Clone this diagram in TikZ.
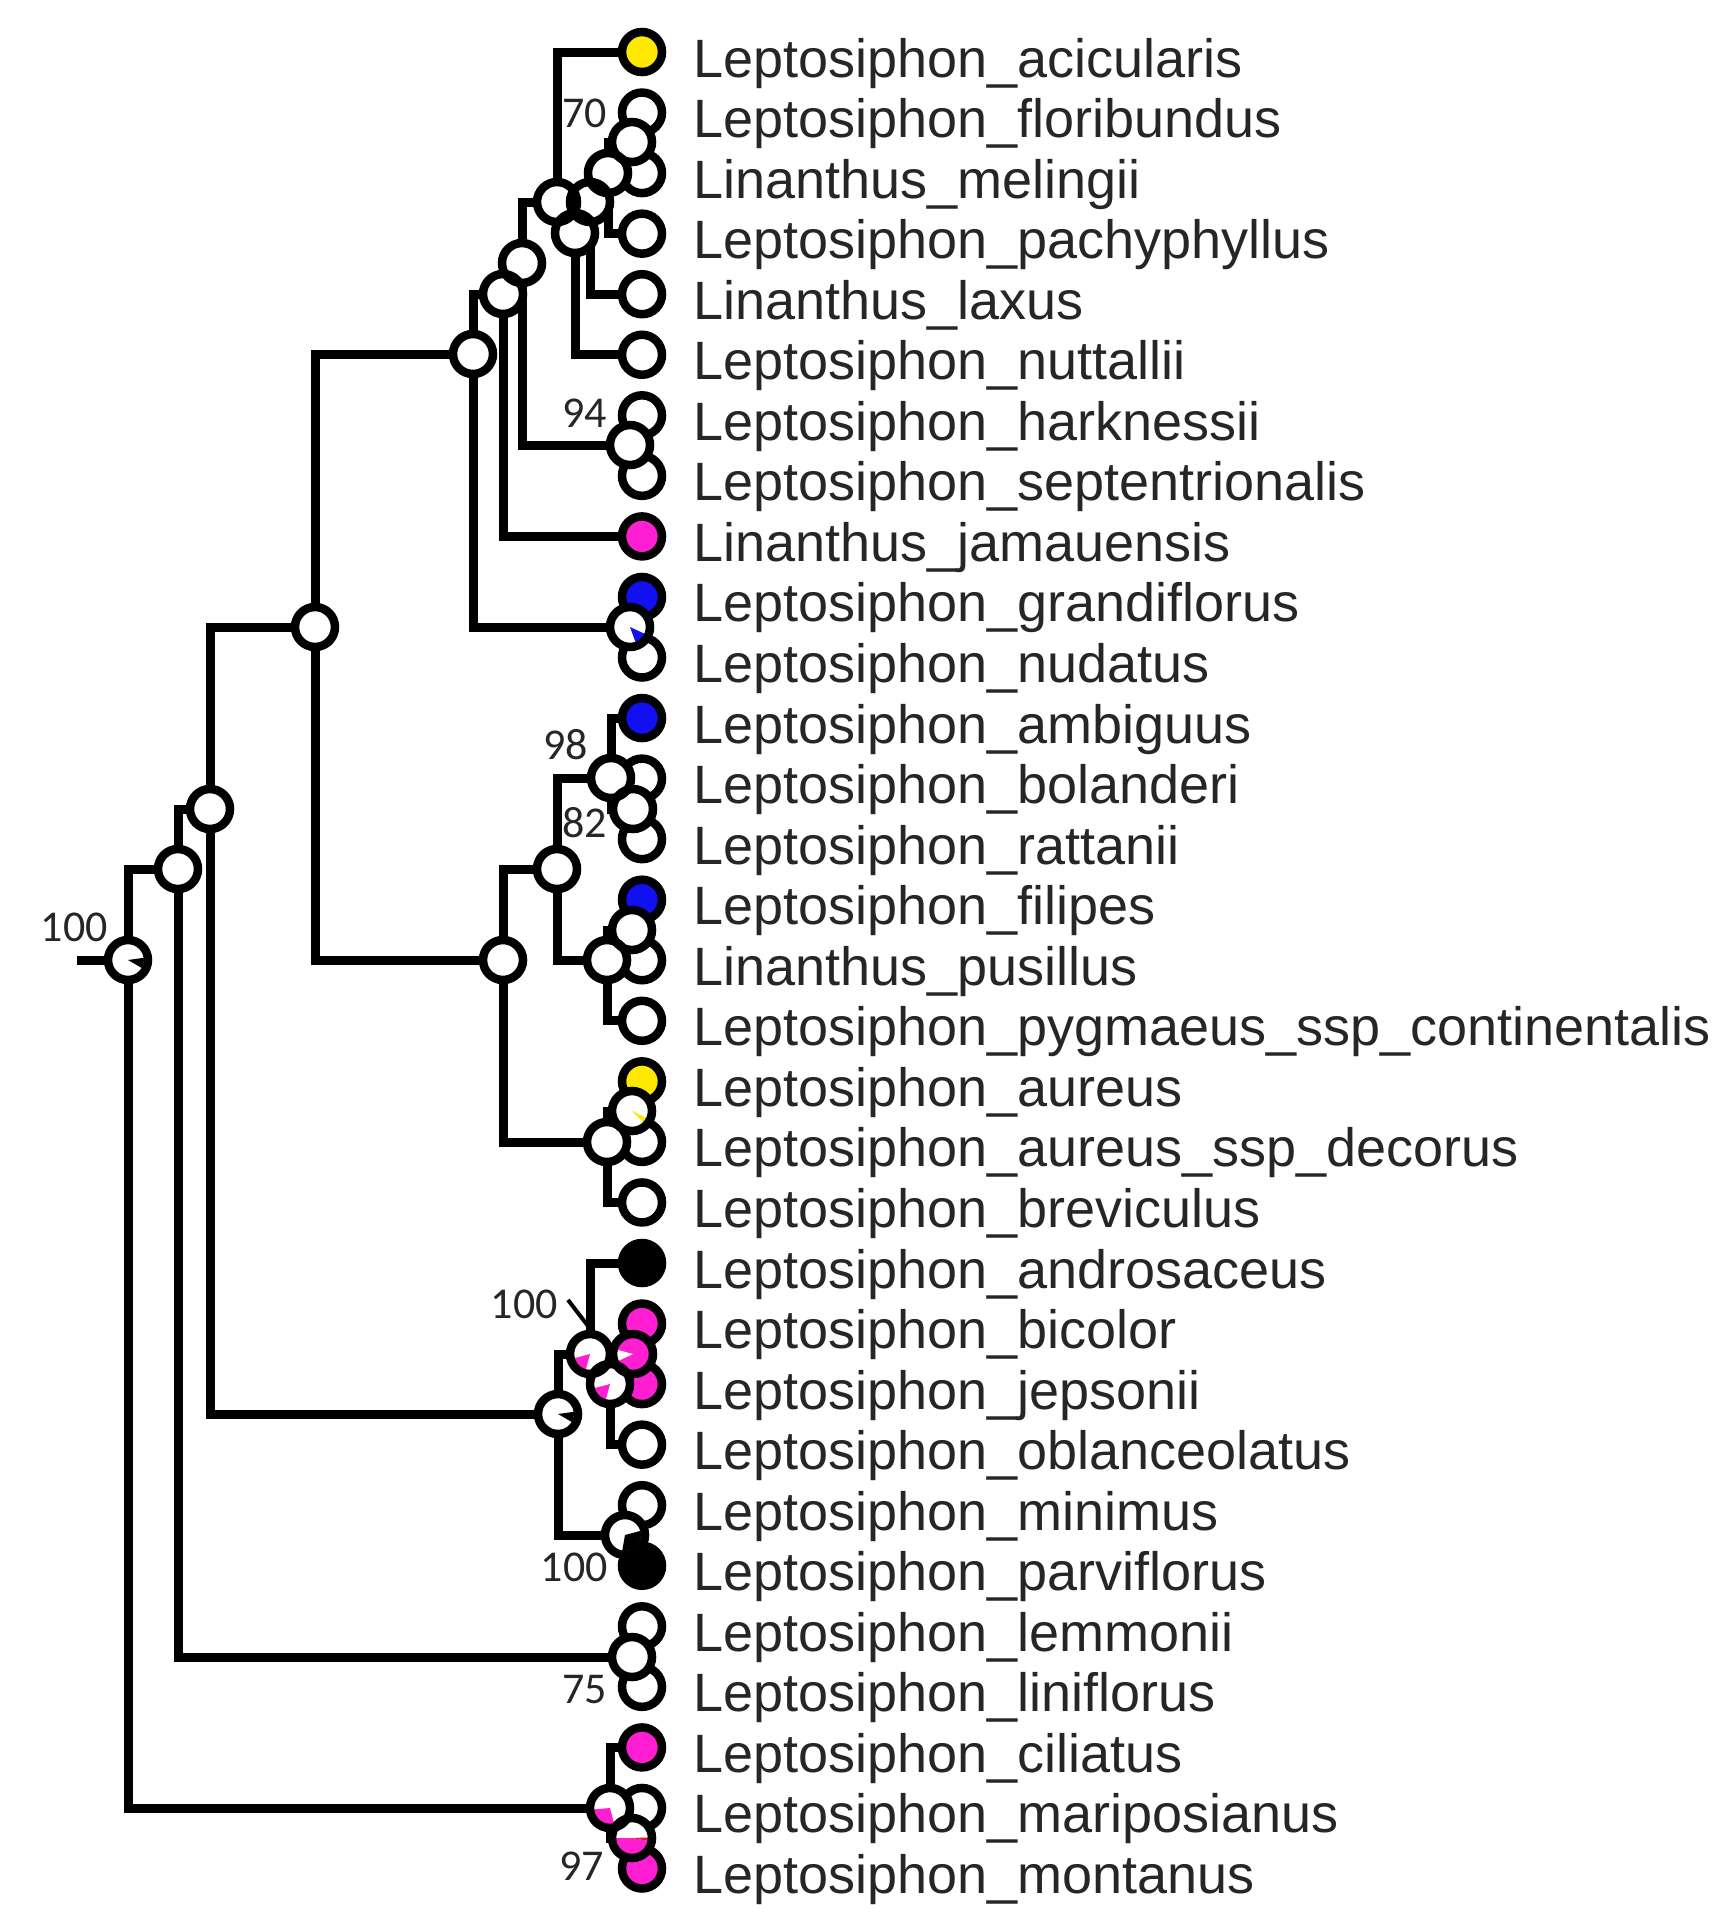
\documentclass[tikz,border=0pt]{standalone}
\usepackage{fontspec}
\setmainfont{Liberation Sans}
\newfontfamily\supfont{Carlito}
\definecolor{cyel}{HTML}{FFE800}
\definecolor{cmag}{HTML}{FF1ED2}
\definecolor{cblu}{HTML}{1010F0}
\definecolor{cred}{HTML}{E8102A}
\definecolor{ctxt}{HTML}{262626}
\newcommand\piesl[4]{\fill[#4, shift={(#1)}] (0,0) -- (#2:16) arc[start angle=#2, end angle=#3, radius=16] -- cycle;}
\newcommand\ringat[1]{\draw[ring] (#1) circle[radius=20];}
\begin{document}
\begin{tikzpicture}[x=1pt,y=1pt,
  br/.style={line width=9pt, black},
  ring/.style={line width=8.5pt, black},
  lab/.style={anchor=base west, inner sep=0pt, font=\fontsize{54}{60}\selectfont, text=ctxt},
  sup/.style={anchor=base east, inner sep=0pt, font=\supfont\fontsize{44}{48}\selectfont, text=ctxt}]
\useasboundingbox (0,0) rectangle (1722,-1915);

% ---- tips and labels
\foreach \i/\nm in {0/Leptosiphon\_acicularis, 1/Leptosiphon\_floribundus, 2/Linanthus\_melingii,
  3/Leptosiphon\_pachyphyllus, 4/Linanthus\_laxus, 5/Leptosiphon\_nuttallii, 6/Leptosiphon\_harknessii,
  7/Leptosiphon\_septentrionalis, 8/Linanthus\_jamauensis, 9/Leptosiphon\_grandiflorus,
  10/Leptosiphon\_nudatus, 11/Leptosiphon\_ambiguus, 12/Leptosiphon\_bolanderi, 13/Leptosiphon\_rattanii,
  14/Leptosiphon\_filipes, 15/Linanthus\_pusillus, 16/Leptosiphon\_pygmaeus\_ssp\_continentalis,
  17/Leptosiphon\_aureus, 18/Leptosiphon\_aureus\_ssp\_decorus, 19/Leptosiphon\_breviculus,
  20/Leptosiphon\_androsaceus, 21/Leptosiphon\_bicolor, 22/Leptosiphon\_jepsonii,
  23/Leptosiphon\_oblanceolatus, 24/Leptosiphon\_minimus, 25/Leptosiphon\_parviflorus,
  26/Leptosiphon\_lemmonii, 27/Leptosiphon\_liniflorus, 28/Leptosiphon\_ciliatus,
  29/Leptosiphon\_mariposianus, 30/Leptosiphon\_montanus}{
  \pgfmathsetmacro\yy{52+60.55*\i}
  \coordinate (t\i) at (642,-\yy);
  \node[lab] (L\i) at (693,-\yy-25) {\nm};
}

% ---- internal nodes
\coordinate (stem) at (77,-960);
\coordinate (root) at (128,-960);
\coordinate (CC) at (178,-869);
\coordinate (BB) at (210,-809);
\coordinate (Z) at (315,-627);
\coordinate (X) at (473,-354);
\coordinate (W) at (503,-294);
\coordinate (U) at (522,-263);
\coordinate (P) at (557,-202);
\coordinate (S) at (575,-233);
\coordinate (Q) at (590,-202);
\coordinate (R) at (608,-173);
\coordinate (T) at (632,-142);
\coordinate (V) at (630,-445);
\coordinate (Y) at (630,-627);
\coordinate (AA) at (503,-960);
\coordinate (FF) at (557,-869);
\coordinate (HH) at (611,-778);
\coordinate (JJ) at (633,-809);
\coordinate (II) at (607,-960);
\coordinate (KK) at (632,-930);
\coordinate (GG) at (607,-1142);
\coordinate (LL) at (632,-1111);
\coordinate (MM) at (558,-1414);
\coordinate (NN) at (590,-1354);
\coordinate (PP) at (610,-1384);
\coordinate (QQ) at (633,-1354);
\coordinate (OO) at (625,-1535);
\coordinate (LM) at (632,-1657);
\coordinate (DD) at (610,-1808);
\coordinate (EE) at (632,-1838);

% ---- branches
\draw[br] (stem) -- (root);
\draw[br] (root) |- (CC);  \draw[br] (root) |- (DD);
\draw[br] (CC) |- (BB);    \draw[br] (CC) |- (LM);
\draw[br] (BB) |- (Z);     \draw[br] (BB) |- (MM);
\draw[br] (Z) |- (X);      \draw[br] (Z) |- (AA);
\draw[br] (X) |- (W);      \draw[br] (X) |- (Y);
\draw[br] (W) |- (U);      \draw[br] (W) |- (t8);
\draw[br] (U) |- (P);      \draw[br] (U) |- (V);
\draw[br] (P) |- (t0);     \draw[br] (P) |- (S);
\draw[br] (S) |- (Q);      \draw[br] (S) |- (t5);
\draw[br] (Q) |- (R);      \draw[br] (Q) |- (t4);
\draw[br] (R) |- (T);      \draw[br] (R) |- (t3);
\draw[br] (T) |- (t1);     \draw[br] (T) |- (t2);
\draw[br] (V) |- (t6);     \draw[br] (V) |- (t7);
\draw[br] (Y) |- (t9);     \draw[br] (Y) |- (t10);
\draw[br] (AA) |- (FF);    \draw[br] (AA) |- (GG);
\draw[br] (FF) |- (HH);    \draw[br] (FF) |- (II);
\draw[br] (HH) |- (t11);   \draw[br] (HH) |- (JJ);
\draw[br] (JJ) |- (t12);   \draw[br] (JJ) |- (t13);
\draw[br] (II) |- (KK);    \draw[br] (II) |- (t16);
\draw[br] (KK) |- (t14);   \draw[br] (KK) |- (t15);
\draw[br] (GG) |- (LL);    \draw[br] (GG) |- (t19);
\draw[br] (LL) |- (t17);   \draw[br] (LL) |- (t18);
\draw[br] (MM) |- (NN);    \draw[br] (MM) |- (OO);
\draw[br] (NN) |- (t20);   \draw[br] (NN) |- (PP);
\draw[br] (PP) |- (QQ);    \draw[br] (PP) |- (t23);
\draw[br] (QQ) |- (t21);   \draw[br] (QQ) |- (t22);
\draw[br] (OO) |- (t24);   \draw[br] (OO) |- (t25);
\draw[br] (LM) |- (t26);   \draw[br] (LM) |- (t27);
\draw[br] (DD) |- (t28);   \draw[br] (DD) |- (EE);
\draw[br] (EE) |- (t29);   \draw[br] (EE) |- (t30);

% ---- tip circles
\foreach \i/\c in {0/cyel,1/white,2/white,3/white,4/white,5/white,6/white,7/white,8/cmag,9/cblu,
  10/white,11/cblu,12/white,13/white,14/cblu,15/white,16/white,17/cyel,18/white,19/white,
  20/black,21/cmag,22/cmag,23/white,24/white,25/black,26/white,27/white,28/cmag,29/white,30/cmag}{
  \fill[\c] (t\i) circle[radius=20];
  \ringat{t\i}
}

% ---- internal node circles (pies)
\foreach \n in {root,CC,BB,Z,X,W,U,P,S,Q,R,T,V,Y,AA,FF,HH,JJ,II,KK,GG,LL,MM,NN,PP,QQ,OO,LM,DD,EE}{
  \fill[white] (\n) circle[radius=20];
}
\piesl{root}{-30}{8}{black}
\piesl{MM}{-30}{8}{black}
\piesl{Y}{-70}{-25}{cblu}
\piesl{LL}{-45}{-25}{cyel}
\piesl{NN}{195}{255}{cmag}
\piesl{PP}{195}{255}{cmag}
\fill[cmag] (QQ) circle[radius=17];
\piesl{QQ}{165}{205}{white}
\piesl{OO}{-100}{15}{black}
\piesl{DD}{185}{285}{cmag}
\piesl{EE}{180}{350}{cmag}
\piesl{EE}{350}{362}{cred}
\foreach \n in {root,CC,BB,Z,X,W,U,P,S,Q,R,T,V,Y,AA,FF,HH,JJ,II,KK,GG,LL,MM,NN,PP,QQ,OO,LM,DD,EE}{
  \ringat{\n}
}

% ---- support values
\node[sup] (s100a) at (108,-941) {100};
\node[sup] (s70) at (607,-127) {70};
\node[sup] (s94) at (607,-427) {94};
\node[sup] (s98) at (588,-759) {98};
\node[sup] (s82) at (607,-837) {82};
\node[sup] (s100b) at (558,-1318) {100};
\node[sup] (s100c) at (608,-1581) {100};
\node[sup] (s75) at (607,-1703) {75};
\node[sup] (s97) at (604,-1880) {97};
\coordinate (tick) at (588,-1326);
\draw[line width=4pt] (s100b.east) ++(10,4) -- (tick);
\end{tikzpicture}
\end{document}
